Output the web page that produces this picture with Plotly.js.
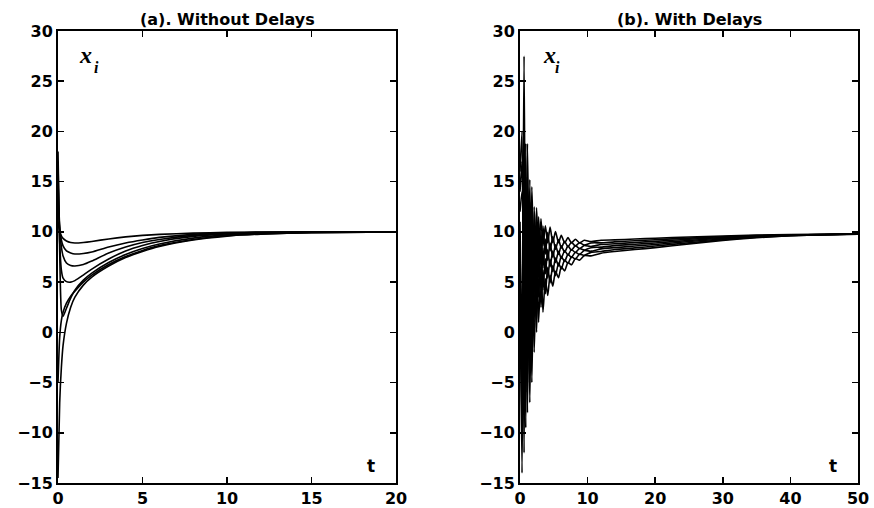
<!DOCTYPE html>
<html>
<head>
<meta charset="utf-8">
<script src="https://cdn.plot.ly/plotly-3.0.1.min.js"></script>
<style>html,body{margin:0;padding:0;background:#fff;}#chart{width:874px;height:508px;}</style>
</head>
<body>
<div id="chart"></div>
<script>
// ---- Panel (a): Without Delays ----
const tLeft = [0, 0.1, 0.2, 0.3, 0.5, 0.75, 1, 1.5, 2, 3, 4, 5, 6, 8, 10, 12, 15, 20];
const left0 = [-14.5, -7, -3.5, -1.3, 0.9, 2.5, 3.5, 4.7, 5.5, 6.6, 7.45, 8.05, 8.55, 9.2, 9.58, 9.78, 9.92, 10];
const left1 = [-5, -0.5, 1.2, 2.0, 2.9, 3.6, 4.1, 5.0, 5.7, 6.75, 7.55, 8.15, 8.63, 9.25, 9.62, 9.8, 9.93, 10];
const left2 = [18, 8, 2.2, 1.6, 2.4, 3.4, 4.2, 5.2, 5.9, 6.95, 7.75, 8.35, 8.8, 9.38, 9.7, 9.86, 9.96, 10];
const left3 = [17, 9, 6.2, 5.4, 5.05, 5.0, 5.15, 5.7, 6.3, 7.3, 8.1, 8.65, 9.05, 9.55, 9.8, 9.92, 9.98, 10];
const left4 = [15, 10.5, 8.5, 7.6, 6.9, 6.65, 6.6, 6.75, 7.1, 7.9, 8.5, 8.95, 9.25, 9.65, 9.85, 9.94, 9.99, 10];
const left5 = [13, 10.5, 9.2, 8.6, 8.1, 7.9, 7.8, 7.85, 8.0, 8.5, 8.9, 9.2, 9.45, 9.75, 9.9, 9.96, 10, 10];
const left6 = [11, 10, 9.6, 9.35, 9.1, 8.95, 8.9, 8.95, 9.05, 9.3, 9.5, 9.65, 9.75, 9.88, 9.95, 9.98, 10, 10];

// ---- Panel (b): With Delays ----
const tRight = [0, 0.3, 0.6, 0.85, 1.1, 1.45, 1.75, 2.1, 2.45, 2.75, 3.1, 3.4, 3.75, 4.1, 4.45, 4.85, 5.25, 5.7, 6.1, 6.6, 7.1, 7.6, 8.2, 8.8, 9.5, 10.5, 12, 14, 17, 20, 25, 30, 35, 40, 45, 50];
const right0 = [5, -14, 12, -9.5, 9, -7, 8, -2, 7.5, 1, 6.5, 2.01, 5.33, 3.66, 5.68, 4.60, 6.08, 5.44, 6.53, 6.12, 6.96, 6.72, 7.34, 7.19, 7.63, 7.61, 7.88, 8.05, 8.24, 8.43, 8.81, 9.14, 9.42, 9.61, 9.71, 9.78];
const right1 = [12, 14, -12, 12, -8, 10, -5, 8.5, 0, 8, 2.5, 6.19, 3.84, 6.48, 4.92, 6.64, 5.63, 6.91, 6.32, 7.21, 6.86, 7.51, 7.30, 7.78, 7.67, 7.96, 8.05, 8.24, 8.41, 8.59, 8.92, 9.21, 9.46, 9.63, 9.71, 9.78];
const right2 = [7, -10, 15, -6, 12, -4, 10.5, 1, 9.5, 3.5, 8.5, 4.21, 7.31, 5.40, 7.28, 6.05, 7.39, 6.60, 7.57, 7.05, 7.79, 7.44, 7.98, 7.76, 8.14, 8.08, 8.31, 8.43, 8.59, 8.74, 9.04, 9.29, 9.51, 9.65, 9.72, 9.79];
const right3 = [14, 17, -8, 15.5, -5, 13, -2, 10.5, 2.5, 10, 4.5, 8.39, 5.81, 8.23, 6.52, 8.08, 6.95, 8.07, 7.36, 8.13, 7.68, 8.24, 7.95, 8.35, 8.18, 8.43, 8.48, 8.63, 8.77, 8.90, 9.15, 9.37, 9.55, 9.67, 9.73, 9.79];
const right4 = [9, -6, 19, -3, 15.2, -1, 12.5, 3.5, 11, 5.5, 10, 6.41, 9.28, 7.15, 8.88, 7.49, 8.71, 7.76, 8.61, 7.98, 8.61, 8.17, 8.63, 8.34, 8.65, 8.55, 8.74, 8.82, 8.94, 9.06, 9.26, 9.44, 9.59, 9.69, 9.74, 9.79];
const right5 = [16, 20, -4, 18.8, -2, 15.2, 1.5, 12.5, 5, 11.5, 6.8, 10.59, 7.78, 9.97, 8.12, 9.53, 8.26, 9.23, 8.40, 9.06, 8.50, 8.97, 8.59, 8.92, 8.69, 8.90, 8.91, 9.01, 9.12, 9.22, 9.38, 9.52, 9.64, 9.71, 9.75, 9.80];
const right6 = [11, -2, 27.5, 0, 18.8, 2, 14.5, 6, 12.4, 7.5, 11.3, 8.61, 10.6, 8.89, 10.49, 8.93, 10.03, 8.92, 9.66, 8.91, 9.43, 8.90, 9.27, 8.91, 9.16, 9.03, 9.17, 9.20, 9.29, 9.37, 9.49, 9.59, 9.68, 9.73, 9.76, 9.80];

const xTicksLeft = [0, 5, 10, 15, 20];
const xTicksRight = [0, 10, 20, 30, 40, 50];
const yTicks = [-15, -10, -5, 0, 5, 10, 15, 20, 25, 30];

const leftSeries = [left0, left1, left2, left3, left4, left5, left6];
const rightSeries = [right0, right1, right2, right3, right4, right5, right6];

const lineStyle = {color: '#000', width: 1.6, shape: 'spline', smoothing: 0.6};
const traces = [];
leftSeries.forEach(s => traces.push({x: tLeft, y: s, mode: 'lines', line: lineStyle, xaxis: 'x', yaxis: 'y', hoverinfo: 'skip'}));
rightSeries.forEach(s => traces.push({x: tRight, y: s, mode: 'lines', line: lineStyle, xaxis: 'x2', yaxis: 'y2', hoverinfo: 'skip'}));

const tickFont = {family: 'DejaVu Sans', size: 16, color: '#000', weight: 'bold'};
function axis(extra) {
  return Object.assign({
    showline: true, linecolor: '#000', linewidth: 2, mirror: 'ticks',
    ticks: 'inside', ticklen: 6, tickwidth: 1.5, tickcolor: '#000',
    showgrid: false, zeroline: false, tickfont: tickFont, fixedrange: true
  }, extra);
}

const titleFont = {family: 'DejaVu Sans', size: 16, color: '#000', weight: 'bold'};
const xFont = {family: 'Liberation Serif', size: 24, color: '#000', weight: 'bold', style: 'italic'};
const iFont = {family: 'Liberation Serif', size: 16, color: '#000', weight: 'bold', style: 'italic'};
const tFont = {family: 'DejaVu Sans', size: 17, color: '#000', weight: 'bold'};

const layout = {
  width: 874, height: 508,
  margin: {l: 58, r: 16, t: 31, b: 25},
  paper_bgcolor: '#fff', plot_bgcolor: '#fff',
  showlegend: false,
  xaxis: axis({domain: [0, 0.4225], range: [0, 20], tickvals: xTicksLeft, anchor: 'y'}),
  yaxis: axis({domain: [0, 1], range: [-15, 30], tickvals: yTicks, anchor: 'x'}),
  xaxis2: axis({domain: [0.5775, 1], range: [0, 50], tickvals: xTicksRight, anchor: 'y2'}),
  yaxis2: axis({domain: [0, 1], range: [-15, 30], tickvals: yTicks, anchor: 'x2'}),
  annotations: [
    {text: '(a). Without Delays', xref: 'x domain', yref: 'y domain', x: 0.5, y: 1, xanchor: 'center', yanchor: 'bottom', yshift: 0, showarrow: false, font: titleFont},
    {text: '(b). With Delays', xref: 'x2 domain', yref: 'y2 domain', x: 0.5, y: 1, xanchor: 'center', yanchor: 'bottom', yshift: 0, showarrow: false, font: titleFont},
    {text: 'x', xref: 'x', yref: 'y', x: 1.6, y: 27.6, showarrow: false, font: xFont},
    {text: 'i', xref: 'x', yref: 'y', x: 2.3, y: 26.4, showarrow: false, font: iFont},
    {text: 'x', xref: 'x2', yref: 'y2', x: 4.3, y: 27.6, showarrow: false, font: xFont},
    {text: 'i', xref: 'x2', yref: 'y2', x: 5.55, y: 26.4, showarrow: false, font: iFont},
    {text: 't', xref: 'x', yref: 'y', x: 18.5, y: -13.3, showarrow: false, font: tFont},
    {text: 't', xref: 'x2', yref: 'y2', x: 46.3, y: -13.3, showarrow: false, font: tFont}
  ]
};

Plotly.newPlot('chart', traces, layout, {staticPlot: true, displayModeBar: false});
</script>
</body>
</html>
